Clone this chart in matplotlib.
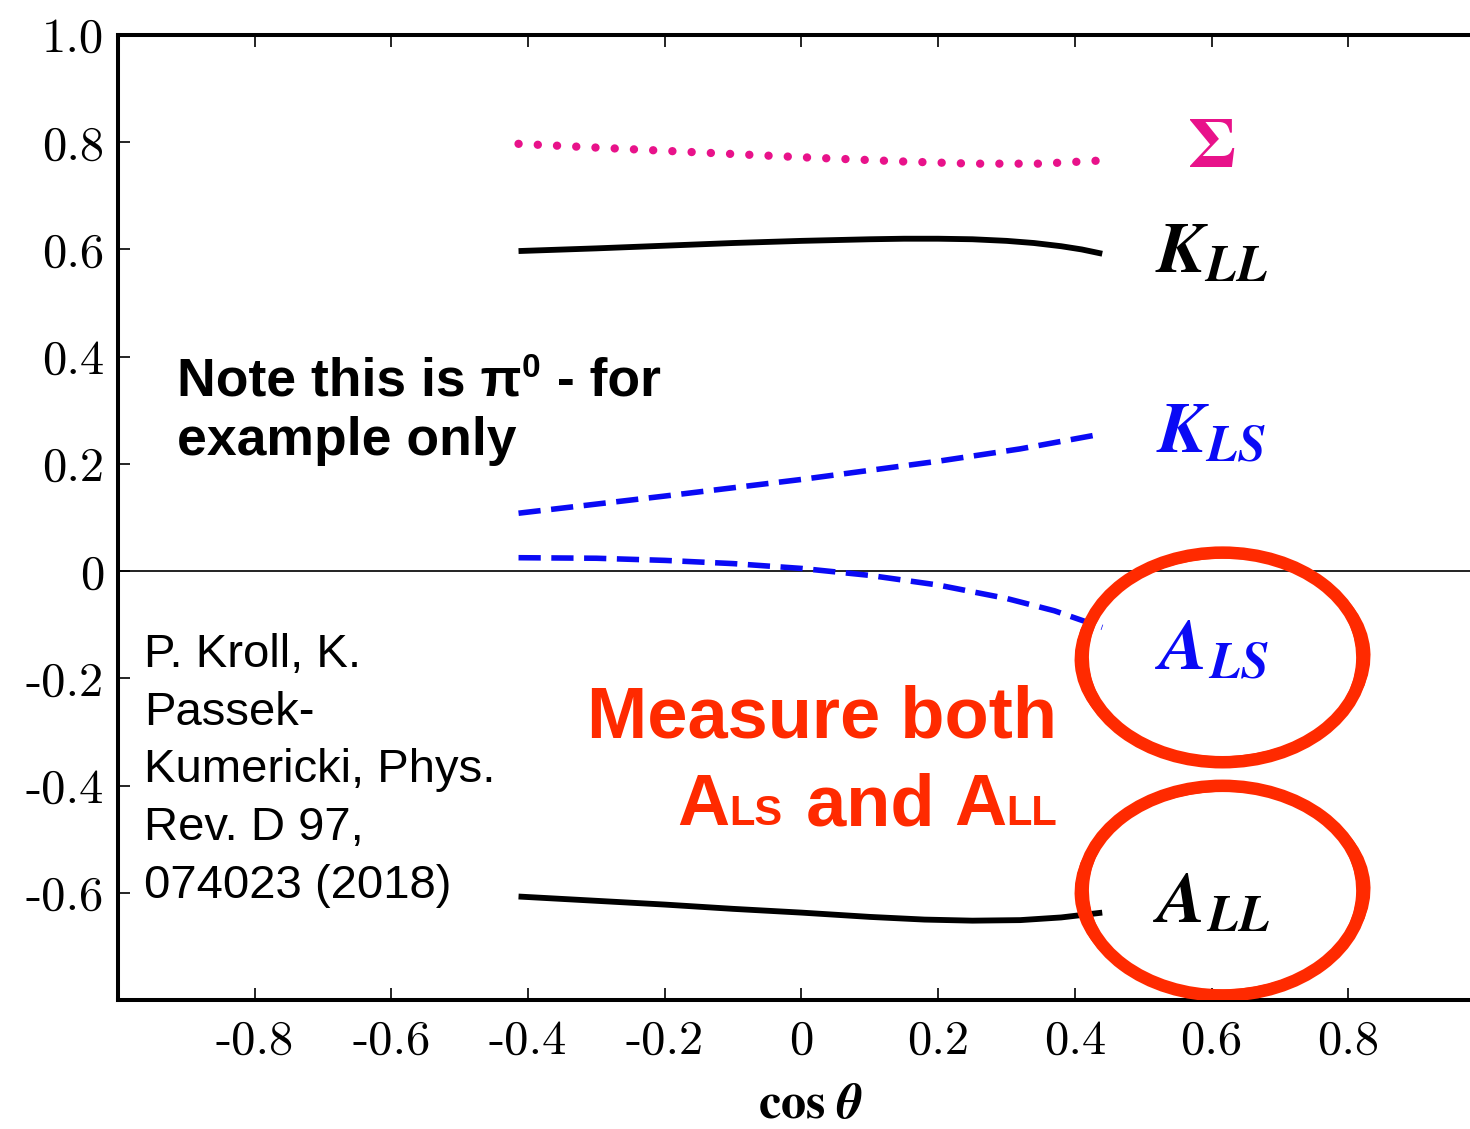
import os
import matplotlib
matplotlib.use('Agg')
import matplotlib.pyplot as plt
from matplotlib.patches import Ellipse
from matplotlib.font_manager import FontProperties

W, H, DPI = 1470, 1129, 100

# ---------------- data ----------------
sigma_x = [-0.414, -0.30, -0.15, 0.0, 0.15, 0.25, 0.35, 0.44]
sigma_y = [0.797, 0.790, 0.781, 0.772, 0.764, 0.760, 0.760, 0.766]

kll_x = [-0.414, -0.30, -0.20, -0.10, 0.0, 0.10, 0.15, 0.20, 0.25, 0.30, 0.34, 0.38, 0.41, 0.44]
kll_y = [0.597, 0.602, 0.607, 0.612, 0.616, 0.619, 0.620, 0.620, 0.619, 0.616, 0.612, 0.606, 0.600, 0.592]

kls_x = [-0.414, -0.20, 0.0, 0.20, 0.32, 0.44]
kls_y = [0.108, 0.140, 0.171, 0.205, 0.228, 0.256]

als_x = [-0.414, -0.30, -0.20, -0.10, 0.0, 0.10, 0.20, 0.30, 0.37, 0.44]
als_y = [0.025, 0.024, 0.020, 0.014, 0.005, -0.008, -0.026, -0.051, -0.074, -0.105]

all_x = [-0.414, -0.30, -0.20, -0.10, 0.0, 0.10, 0.18, 0.25, 0.32, 0.38, 0.44]
all_y = [-0.607, -0.615, -0.622, -0.630, -0.637, -0.645, -0.650, -0.652, -0.651, -0.646, -0.637]

xticks = [-0.8, -0.6, -0.4, -0.2, 0.0, 0.2, 0.4, 0.6, 0.8]
xtick_labels = ['-0.8', '-0.6', '-0.4', '-0.2', '0', '0.2', '0.4', '0.6', '0.8']
yticks = [1.0, 0.8, 0.6, 0.4, 0.2, 0.0, -0.2, -0.4, -0.6]
ytick_labels = ['1.0', '0.8', '0.6', '0.4', '0.2', '0', '-0.2', '-0.4', '-0.6']

curve_labels = [r'$\mathbf{\Sigma}$', r'$\mathbfit{K}_{\mathbfit{LL}}$',
                r'$\mathbfit{K}_{\mathbfit{LS}}$', r'$\mathbfit{A}_{\mathbfit{LS}}$',
                r'$\mathbfit{A}_{\mathbfit{LL}}$']

note_pieces = [('Note this is \u03c0', 0), ('0', 1), (' - for', 0)]
note_line2 = 'example only'
ref_lines = ['P. Kroll, K.', 'Passek-', 'Kumericki, Phys.', 'Rev. D 97,', '074023 (2018)']
msg_line1 = 'Measure both'
msg_pieces = [('A', 0), ('LS', 1), (' and ', 0), ('A', 0), ('LL', 1)]

PINK = '#E8128A'
BLUE = '#0A0AF5'
RED = '#FF2A00'
SANS = ['Liberation Sans', 'DejaVu Sans']

cm_path = os.path.join(matplotlib.get_data_path(), 'fonts', 'ttf', 'cmr10.ttf')
cm_font = FontProperties(fname=cm_path, size=35)

# ---------------- figure ----------------
fig = plt.figure(figsize=(W / DPI, H / DPI), dpi=DPI)
fig.patch.set_facecolor('white')
ax = fig.add_axes([118 / W, (H - 1000) / H, 1367 / W, 965 / H])
ax.set_xlim(-1.0, 1.0)
ax.set_ylim(-0.8, 1.0)

ax.axhline(0, color='#222222', lw=1.4, zorder=1)

ax.plot(sigma_x, sigma_y, color=PINK, lw=6.0, ls=(0, (0.01, 2.3)),
        dash_capstyle='round', zorder=3)
ax.plot(kll_x, kll_y, color='black', lw=4.2, solid_capstyle='butt',
        solid_joinstyle='round', zorder=3)
ax.plot(kls_x, kls_y, color=BLUE, lw=4.0, ls=(0, (4.0, 1.9)), dash_capstyle='butt', zorder=3)
ax.plot(als_x, als_y, color=BLUE, lw=4.0, ls=(0, (4.0, 1.9)), dash_capstyle='butt', zorder=3)
ax.plot(all_x, all_y, color='black', lw=4.2, solid_capstyle='butt',
        solid_joinstyle='round', zorder=3)

# spines / ticks
for s in ['left', 'bottom', 'top']:
    ax.spines[s].set_linewidth(2.9)
ax.spines['right'].set_visible(False)
ax.set_xticks(xticks)
ax.set_xticklabels(xtick_labels)
ax.set_yticks(yticks)
ax.set_yticklabels(ytick_labels)
for lbl in ax.get_xticklabels() + ax.get_yticklabels():
    lbl.set_fontproperties(cm_font)
ax.tick_params(axis='x', direction='in', top=True, bottom=True, length=8.5, width=1.2, pad=14)
ax.tick_params(axis='y', direction='in', left=True, right=False, length=8.5, width=1.2, pad=10)

ax.set_xlabel(r'$\mathbf{cos}\ \mathbfit{\theta}$', fontsize=36, math_fontfamily='stix')
ax.xaxis.set_label_coords((811 - 118) / 1367, (1000 - 1080) / 965)

# curve labels
lab_pos = [(0.600, 0.754, PINK), (0.600, 0.557, 'black'), (0.600, 0.222, BLUE),
           (0.600, -0.183, BLUE), (0.600, -0.655, 'black')]
for txt, (lx, ly, c) in zip(curve_labels, lab_pos):
    ax.text(lx, ly, txt, color=c, fontsize=52, math_fontfamily='stix',
            ha='center', va='baseline', zorder=5)

# red hand-drawn-like ellipses
for cy in (-0.161, -0.596):
    for dw, dh, ang, lw in [(0.0, 0.0, 0, 9.0), (0.014, -0.012, 4, 4.0),
                            (-0.012, 0.010, -3, 4.0), (0.006, 0.012, 2, 3.0)]:
        ax.add_patch(Ellipse((0.616, cy), 0.411 + dw, 0.391 + dh, angle=ang,
                             fill=False, edgecolor=RED, lw=lw, zorder=6))

renderer = fig.canvas.get_renderer()

# note text (with superscript zero)
xpix = 177.0
for s, sup in note_pieces:
    fs = 24 if sup else 38.5
    ybase = 395 - (18 if sup else 0)
    t = fig.text(xpix / W, 1 - ybase / H, s, fontsize=fs, fontweight='bold',
                 family=SANS, color='black', ha='left', va='baseline')
    xpix += t.get_window_extent(renderer).width + (2 if sup else 0)
fig.text(177 / W, 1 - 455 / H, note_line2, fontsize=38.5, fontweight='bold',
         family=SANS, color='black', ha='left', va='baseline')

# reference text
for i, line in enumerate(ref_lines):
    fig.text(144 / W, 1 - (667 + 57.7 * i) / H, line, fontsize=34,
             family=SANS, color='black', ha='left', va='baseline')

# red message
fig.text(1057 / W, 1 - 737 / H, msg_line1, fontsize=52, fontweight='bold',
         family=SANS, color=RED, ha='right', va='baseline')

texts = []
total = 0.0
for s, sub in msg_pieces:
    fs = 30 if sub else 52
    t = fig.text(0, 1 - 825 / H, s, fontsize=fs, fontweight='bold',
                 family=SANS, color=RED, ha='left', va='baseline')
    w = t.get_window_extent(renderer).width + (3 if sub else 0)
    texts.append((t, w))
    total += w
xpix = 1057.0 - total + 3
for t, w in texts:
    t.set_x(xpix / W)
    xpix += w

fig.savefig('out.png', dpi=DPI, facecolor='white')
